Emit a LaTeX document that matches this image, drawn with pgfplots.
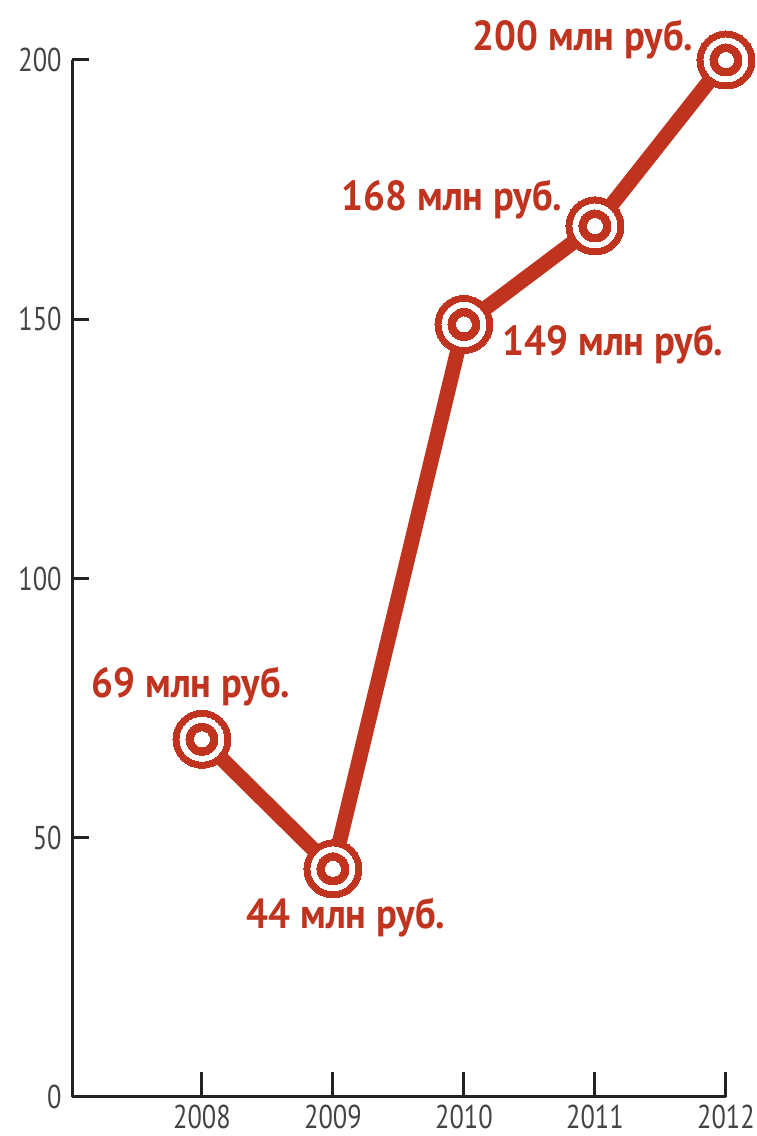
\documentclass[border=0pt]{standalone}
\usepackage{fontspec}
\setmainfont{PT Sans}[FakeStretch=0.92]
\newfontfamily\tickfont{PT Sans}[FakeStretch=0.8]
\usepackage{pgfplots}
\pgfplotsset{compat=1.18}
\definecolor{cred}{HTML}{C0331E}
\definecolor{axgray}{HTML}{222222}
\definecolor{tickgray}{HTML}{444444}
\begin{document}
\begin{tikzpicture}
\useasboundingbox (0,0) rectangle (378pt,568pt);
\begin{axis}[
  at={(36pt,19.5pt)}, anchor=origin,
  scale only axis, width=327pt, height=518.5pt,
  xmin=2007.008, xmax=2012, ymin=0, ymax=200,
  axis x line=bottom, axis y line=left,
  axis line style={axgray, line width=1.5pt, -},
  xtick={2008,2009,2010,2011,2012},
  xticklabels={2008,2009,2010,2011,2012},
  ytick={0,50,100,150,200},
  yticklabels={0,50,100,150,200},
  tick align=inside,
  major tick length=12.5pt,
  x tick style={axgray, line width=1.5pt},
  y tick style={axgray, line width=1.5pt, /pgfplots/major tick length=8.5pt},
  ticklabel style={font=\tickfont\fontsize{16.5pt}{18pt}\selectfont, text=tickgray},
  xticklabel style={inner sep=0pt, anchor=north, yshift=-4pt},
  yticklabel style={inner sep=0pt, anchor=east, xshift=-5pt},
  clip=false,
]
\addplot[cred, line width=7.5pt, line join=round, mark=none]
  coordinates {(2008,69) (2009,44) (2010,149) (2011,168) (2012,200)};
\addplot[only marks, color=cred, mark=*, mark size=14.5pt, mark options={fill=cred, draw=cred, line width=0pt}]
  coordinates {(2008,69) (2009,44) (2010,149) (2011,168) (2012,200)};
\addplot[only marks, color=white, mark=*, mark size=11pt, mark options={fill=white, draw=white, line width=0pt}]
  coordinates {(2008,69) (2009,44) (2010,149) (2011,168) (2012,200)};
\addplot[only marks, color=cred, mark=*, mark size=8pt, mark options={fill=cred, draw=cred, line width=0pt}]
  coordinates {(2008,69) (2009,44) (2010,149) (2011,168) (2012,200)};
\addplot[only marks, color=white, mark=*, mark size=3.75pt, mark options={fill=white, draw=white, line width=0pt}]
  coordinates {(2008,69) (2009,44) (2010,149) (2011,168) (2012,200)};
\tikzset{lab/.style={font=\bfseries\fontsize{21pt}{24pt}\selectfont, text=cred, inner sep=0pt}}
\node[lab, xshift=-5.5pt, yshift=26.5pt] at (axis cs:2008,69) {69 млн руб.};
\node[lab, xshift=6.5pt, yshift=-24.5pt] at (axis cs:2009,44) {44 млн руб.};
\node[lab, xshift=74.5pt, yshift=-10pt] at (axis cs:2010,149) {149 млн руб.};
\node[lab, xshift=-71.5pt, yshift=13pt] at (axis cs:2011,168) {168 млн руб.};
\node[lab, xshift=-71.5pt, yshift=10pt] at (axis cs:2012,200) {200 млн руб.};
\end{axis}
\end{tikzpicture}
\end{document}
